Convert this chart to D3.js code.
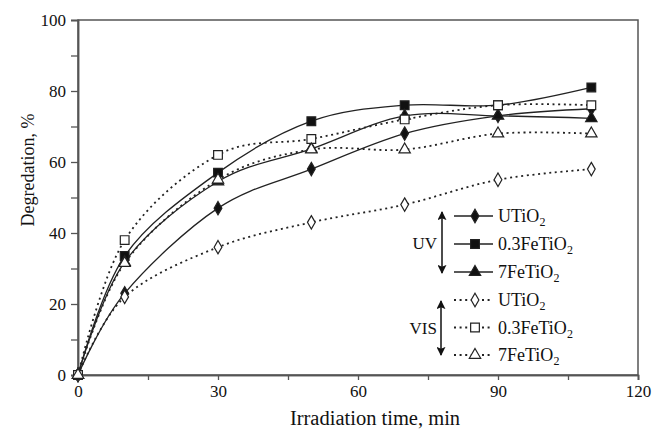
<!DOCTYPE html>
<html>
<head>
<meta charset="utf-8">
<script src="https://cdn.jsdelivr.net/npm/d3@7/dist/d3.min.js"></script>
<style>
  html, body { margin: 0; padding: 0; background: #fff; }
  svg { display: block; }
  text { font-family: "Liberation Serif", "Times New Roman", serif; fill: #111; }
</style>
</head>
<body>
<svg id="chart" width="654" height="431"></svg>
<script>
// Irradiation times (min)
const times = [0, 10, 30, 50, 70, 90, 110];

// Degradation (%) under UV light
const uvUTiO2   = [0, 23,   47,   58,   68, 73, 75];
const uvFe03    = [0, 33.5, 57,   71.5, 76, 76, 81];
const uvFe7     = [0, 31.8, 54.5, 63.7, 73, 73, 72.3];

// Degradation (%) under visible light
const visUTiO2  = [0, 22,   36,   43,   48, 55, 58];
const visFe03   = [0, 38,   62,   66.5, 72, 76, 76];
const visFe7    = [0, 31.5, 55,   63.5, 63.5, 68, 68];

const xTicks = [0, 30, 60, 90, 120];
const xMinor = [15, 45, 75, 105];
const yTicks = [0, 20, 40, 60, 80, 100];
const yMinor = [10, 30, 50, 70, 90];

const series = [
  { name: "UTiO", sub: "2", values: uvUTiO2,  marker: "diamond",  filled: true,  dotted: false },
  { name: "0.3FeTiO", sub: "2", values: uvFe03, marker: "square", filled: true,  dotted: false },
  { name: "7FeTiO", sub: "2", values: uvFe7,  marker: "triangle", filled: true,  dotted: false },
  { name: "UTiO", sub: "2", values: visUTiO2, marker: "diamond",  filled: false, dotted: true },
  { name: "0.3FeTiO", sub: "2", values: visFe03, marker: "square", filled: false, dotted: true },
  { name: "7FeTiO", sub: "2", values: visFe7, marker: "triangle", filled: false, dotted: true }
];

const svg = d3.select("#chart");
const plotLeft = 78, plotRight = 638, plotTop = 20, plotBottom = 375;

const x = d3.scaleLinear().domain([0, 120]).range([plotLeft, plotRight]);
const y = d3.scaleLinear().domain([0, 100]).range([plotBottom, plotTop]);

const axisColor = "#555";

// frame
svg.append("rect")
  .attr("x", plotLeft).attr("y", plotTop)
  .attr("width", plotRight - plotLeft).attr("height", plotBottom - plotTop)
  .attr("fill", "none").attr("stroke", axisColor).attr("stroke-width", 1.5);

// x axis
svg.append("g").attr("transform", `translate(0,${plotBottom})`)
  .call(d3.axisBottom(x).tickValues(xTicks).tickSize(5).tickPadding(5).tickFormat(d3.format("d")));
svg.append("g").attr("transform", `translate(0,${plotBottom})`)
  .call(d3.axisBottom(x).tickValues(xMinor).tickSize(5).tickFormat(""));

// y axis
svg.append("g").attr("transform", `translate(${plotLeft},0)`)
  .call(d3.axisLeft(y).tickValues(yTicks).tickSize(7).tickPadding(5).tickFormat(d3.format("d")));
svg.append("g").attr("transform", `translate(${plotLeft},0)`)
  .call(d3.axisLeft(y).tickValues(yMinor).tickSize(7).tickFormat(""));

svg.selectAll(".domain").attr("stroke", axisColor).attr("stroke-width", 1.5);
svg.selectAll(".tick line").attr("stroke", axisColor).attr("stroke-width", 1.3);
svg.selectAll(".tick text")
  .attr("font-family", "Liberation Serif").attr("font-size", 17).attr("fill", "#111");

// axis titles
svg.append("text")
  .attr("x", 375).attr("y", 425)
  .attr("text-anchor", "middle").attr("font-size", 20.5)
  .text("Irradiation time, min");

svg.append("text")
  .attr("transform", "translate(34,170) rotate(-90)")
  .attr("text-anchor", "middle").attr("font-size", 18)
  .text("Degredation, %");

// marker shapes
const symbolType = { diamond: d3.symbolDiamond, square: d3.symbolSquare, triangle: d3.symbolTriangle };
const symbolSize = { diamond: 52, square: 76, triangle: 56 };

function drawMarker(g, s, cx, cy) {
  g.append("path")
    .attr("d", d3.symbol().type(symbolType[s.marker]).size(symbolSize[s.marker])())
    .attr("transform", `translate(${cx},${cy})`)
    .attr("fill", s.filled ? "#111" : "#fff")
    .attr("stroke", "#222")
    .attr("stroke-width", 1.2);
}

const line = d3.line()
  .x((d, i) => x(times[i]))
  .y(d => y(d))
  .curve(d3.curveCardinal.tension(0));

const plot = svg.append("g");

series.forEach(s => {
  plot.append("path")
    .datum(s.values)
    .attr("d", line)
    .attr("fill", "none")
    .attr("stroke", "#222")
    .attr("stroke-width", s.dotted ? 1.8 : 1.3)
    .attr("stroke-dasharray", s.dotted ? "2,3.6" : null);
});

series.forEach(s => {
  s.values.forEach((v, i) => drawMarker(plot, s, x(times[i]), y(v)));
});

// legend
const legend = svg.append("g");
const rowY = [216, 244, 272, 300, 327.5, 355];
series.forEach((s, i) => {
  const ry = rowY[i];
  legend.append("line")
    .attr("x1", 454).attr("x2", 493).attr("y1", ry).attr("y2", ry)
    .attr("stroke", "#222")
    .attr("stroke-width", s.dotted ? 1.8 : 1.3)
    .attr("stroke-dasharray", s.dotted ? "2,3.6" : null);
  drawMarker(legend, s, 475, ry);
  const t = legend.append("text")
    .attr("x", 498).attr("y", ry + 6)
    .attr("font-size", 18);
  t.append("tspan").text(s.name);
  t.append("tspan").attr("font-size", 12).attr("dy", 4).text(s.sub);
});

// double-headed arrows grouping the light sources
svg.append("defs").append("marker")
  .attr("id", "head").attr("viewBox", "0 0 10 10")
  .attr("refX", 9).attr("refY", 5)
  .attr("markerWidth", 9).attr("markerHeight", 9)
  .attr("markerUnits", "userSpaceOnUse")
  .attr("orient", "auto-start-reverse")
  .append("path").attr("d", "M0,0 L10,5 L0,10 L2,5 Z").attr("fill", "#111");

function groupArrow(xp, y1, y2, label, labelX) {
  svg.append("line")
    .attr("x1", xp).attr("x2", xp).attr("y1", y1).attr("y2", y2)
    .attr("stroke", "#111").attr("stroke-width", 1.5)
    .attr("marker-start", "url(#head)").attr("marker-end", "url(#head)");
  svg.append("text")
    .attr("x", labelX).attr("y", (y1 + y2) / 2 + 6)
    .attr("text-anchor", "end").attr("font-size", 17)
    .text(label);
}
groupArrow(442, 212, 273, "UV", 437);
groupArrow(441, 301, 355, "VIS", 437);
</script>
</body>
</html>
